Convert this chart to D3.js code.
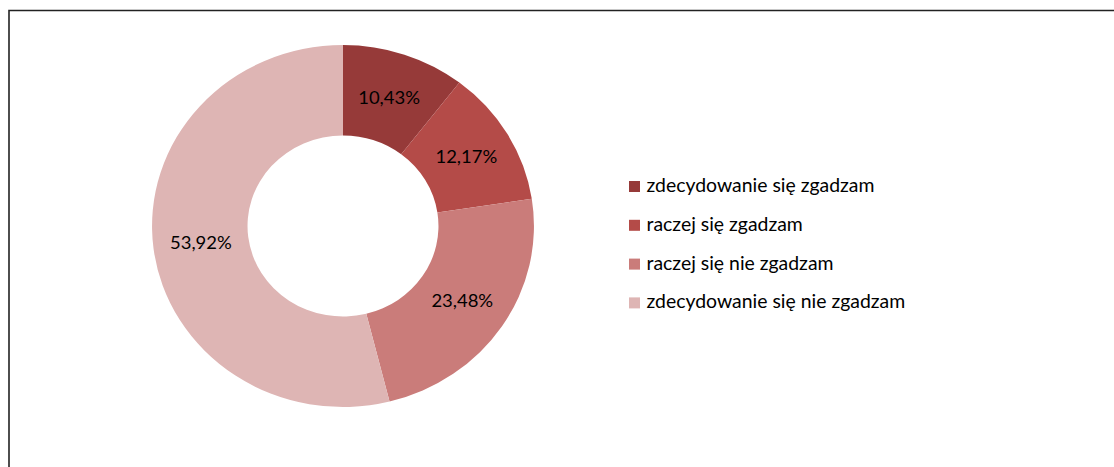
<!DOCTYPE html>
<html>
<head>
<meta charset="utf-8">
<script src="https://cdn.jsdelivr.net/npm/d3@7"></script>
<style>
  html, body { margin: 0; padding: 0; background: #fff; }
  svg { display: block; }
  text { font-family: Lato, "Open Sans", sans-serif; fill: #000; }
</style>
</head>
<body>
<svg id="chart" width="1114" height="467"></svg>
<script>
const categories = [
  "zdecydowanie się zgadzam",
  "raczej się zgadzam",
  "raczej się nie zgadzam",
  "zdecydowanie się nie zgadzam"
];
const values = [10.43, 12.17, 23.48, 53.92];
const valueLabels = ["10,43%", "12,17%", "23,48%", "53,92%"];
const colors = ["#963A39", "#B44B48", "#CA7C7A", "#DEB5B4"];

const W = 1114, H = 467;
const svg = d3.select("#chart");
svg.append("rect").attr("width", W).attr("height", H).attr("fill", "#fff");

// chart frame (top and left edges visible)
svg.append("path")
  .attr("d", d3.line()([[9, H], [9, 10.5], [W, 10.5]]))
  .attr("fill", "none").attr("stroke", "#222").attr("stroke-width", 1.6);

const color = d3.scaleOrdinal(categories, colors);
const sx = 1.055;           // reference image is horizontally stretched
const cx = 343, cy = 226;
const outerR = 181, innerR = 90.5;

const pie = d3.pie().sort(null).value(d => d.v).startAngle(0).endAngle(2 * Math.PI);
const data = categories.map((c, i) => ({ c, v: values[i], label: valueLabels[i] }));
const arcs = pie(data);
const arc = d3.arc().innerRadius(innerR).outerRadius(outerR);

const g = svg.append("g").attr("transform", `translate(${cx},${cy}) scale(${sx},1)`);
g.selectAll("path.slice").data(arcs).join("path")
  .attr("class", "slice")
  .attr("d", arc)
  .attr("fill", d => color(d.data.c));

const labelSize = 17.5;
svg.selectAll("text.lbl").data(arcs).join("text")
  .attr("class", "lbl")
  .attr("transform", d => {
    const [x, y] = arc.centroid(d);
    return `translate(${cx + x * sx},${cy + y}) scale(${sx},1)`;
  })
  .attr("text-anchor", "middle")
  .attr("dy", "0.36em")
  .style("font-size", labelSize + "px")
  .text(d => d.data.label);

// legend
const legendSize = 18.4;
const ly = d3.scalePoint().domain(categories).range([192, 192 + 3 * 38.8]);
const legend = svg.append("g");
const items = legend.selectAll("g").data(categories).join("g")
  .attr("transform", d => `translate(629,${ly(d)})`);
items.append("rect")
  .attr("x", 0).attr("y", -11).attr("width", 11).attr("height", 11)
  .attr("fill", d => color(d));
items.append("text")
  .attr("transform", `translate(17.5,0) scale(${sx},1)`)
  .style("font-size", legendSize + "px")
  .text(d => d);
</script>
</body>
</html>
